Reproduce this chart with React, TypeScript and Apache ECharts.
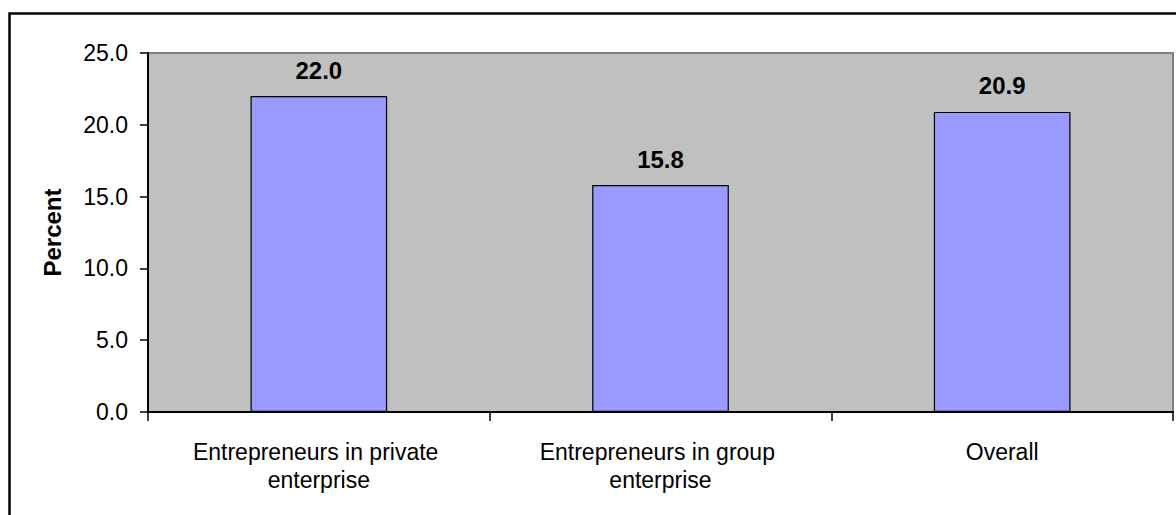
import React, { useEffect, useRef } from "react";
import * as echarts from "echarts";

const categories = [
  "Entrepreneurs in private enterprise",
  "Entrepreneurs in group enterprise",
  "Overall",
];
const values = [22.0, 15.8, 20.9];
const yTicks = { min: 0, max: 25, interval: 5 };

const FONT = "'Liberation Sans', Arial, sans-serif";

export default function App() {
  const ref = useRef<HTMLDivElement>(null);
  useEffect(() => {
    const chart = echarts.init(ref.current!, null, { renderer: "svg" });
    chart.setOption({
      animation: false,
      backgroundColor: "#ffffff",
      textStyle: { fontFamily: FONT },
      graphic: [
        {
          type: "rect",
          z: -10,
          shape: { x: 9.5, y: 13.5, width: 1300, height: 700 },
          style: { fill: "none", stroke: "#000", lineWidth: 2.5 },
          silent: true,
        },
      ],
      grid: {
        left: 148,
        right: 3,
        top: 53,
        bottom: 103,
        show: true,
        backgroundColor: "#C0C0C0",
        borderColor: "#808080",
        borderWidth: 2,
      },
      xAxis: {
        type: "category",
        data: categories,
        axisLine: { lineStyle: { color: "#000", width: 2 } },
        axisTick: { show: true, length: 9, lineStyle: { color: "#000", width: 1.5 } },
        axisLabel: {
          color: "#000",
          fontSize: 23,
          fontFamily: FONT,
          margin: 26,
          lineHeight: 28,
          width: 300,
          overflow: "break",
          interval: 0,
        },
        splitLine: { show: false },
      },
      yAxis: {
        type: "value",
        min: yTicks.min,
        max: yTicks.max,
        interval: yTicks.interval,
        name: "Percent",
        nameLocation: "middle",
        nameGap: 84,
        nameRotate: 90,
        nameTextStyle: { fontSize: 24, fontWeight: "bold", color: "#000", fontFamily: FONT },
        axisLine: { show: true, lineStyle: { color: "#000", width: 2 } },
        axisTick: { show: true, length: 8, lineStyle: { color: "#000", width: 1.5 } },
        axisLabel: {
          color: "#000",
          fontSize: 23,
          fontFamily: FONT,
          margin: 20,
          formatter: (v: number) => v.toFixed(1),
        },
        splitLine: { show: false },
      },
      series: [
        {
          type: "bar",
          data: values,
          barWidth: "40%",
          itemStyle: { color: "#9999FF", borderColor: "#000", borderWidth: 1.2 },
          label: {
            show: true,
            position: "top",
            distance: 14,
            fontSize: 24,
            fontWeight: "bold",
            color: "#000",
            fontFamily: FONT,
            formatter: (p: any) => Number(p.value).toFixed(1),
          },
        },
      ],
    });
    return () => chart.dispose();
  }, []);
  return (
    <div
      ref={ref}
      style={{ position: "absolute", left: 0, top: 0, width: 1176, height: 515 }}
    />
  );
}
